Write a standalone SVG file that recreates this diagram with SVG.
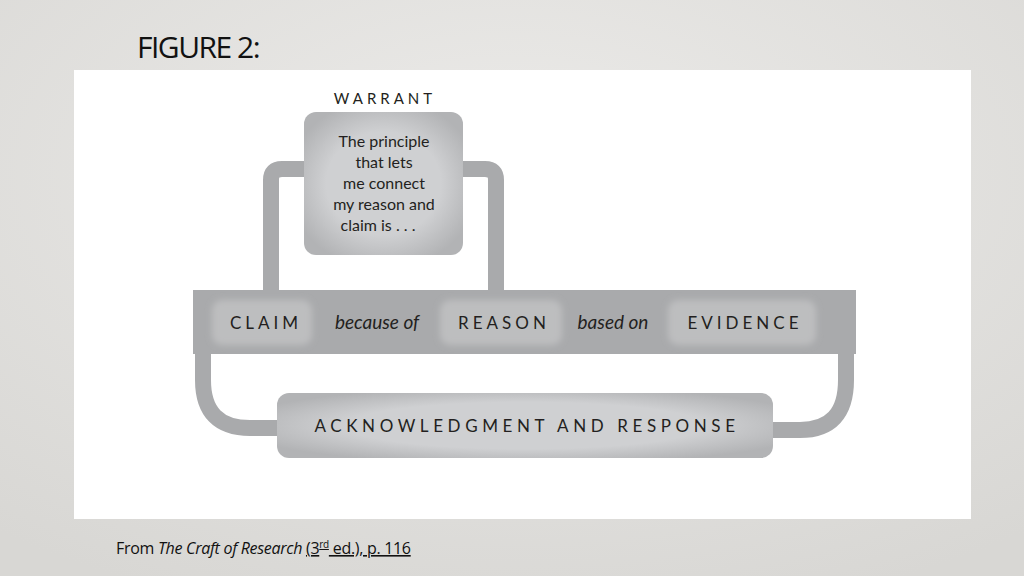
<svg xmlns="http://www.w3.org/2000/svg" width="1024" height="576" viewBox="0 0 1024 576">
<defs>
<radialGradient id="bg" cx="50%" cy="30%" r="80%"><stop offset="0" stop-color="#ecebe9"/><stop offset="1" stop-color="#d8d7d4"/></radialGradient>
<radialGradient id="glow" cx="50%" cy="50%" r="60%"><stop offset="0.6" stop-color="#cfd0d2"/><stop offset="1" stop-color="#b2b3b5"/></radialGradient>
<filter id="blur" x="-20%" y="-20%" width="140%" height="140%"><feGaussianBlur stdDeviation="3"/></filter>
<style>
.band{fill:#a9aaac}
.lk{fill:none;stroke:#a9aaac;stroke-width:16}
.cap{font-family:"Lato","Liberation Sans",sans-serif;font-size:17px;letter-spacing:4px;fill:#231f20;text-anchor:middle}
.it{font-family:"Lato","Liberation Sans",sans-serif;font-size:19px;font-style:italic;fill:#231f20;text-anchor:middle}
.body{font-family:"Lato","Liberation Sans",sans-serif;font-size:16px;fill:#231f20;text-anchor:middle}
</style>
</defs>
<rect width="1024" height="576" fill="url(#bg)"/>
<text x="137" y="58" font-family="'Open Sans','Liberation Sans',sans-serif" font-size="30" fill="#111" letter-spacing="-1.5">FIGURE 2:</text>
<rect x="74" y="70" width="897" height="449" fill="#fff"/>
<g id="connectors">
<path class="lk" d="M271 290 V180 Q271 169 282 169 H310"/>
<path class="lk" d="M460 169 H485 Q496 169 496 180 V290"/>
<path class="lk" d="M203 350 V380 Q203 428 250 428 H285"/>
<path class="lk" d="M846 350 V380 Q846 430 800 430 H765"/>
</g>
<g id="band"><rect class="band" x="193" y="290" width="663" height="64"/></g>
<g id="warrant">
<text class="cap" x="385" y="104" style="font-size:15px;letter-spacing:4px">WARRANT</text>
<rect x="304" y="112" width="159" height="143" rx="12" fill="url(#glow)"/>
<text class="body" x="384" y="147">The principle</text>
<text class="body" x="384" y="168">that lets</text>
<text class="body" x="384" y="189">me connect</text>
<text class="body" x="384" y="210">my reason and</text>
<text class="body" x="378" y="231">claim is . . .</text>
</g>
<g id="claim">
<rect x="212" y="300" width="100" height="45" rx="10" fill="#bdbebf" filter="url(#blur)"/>
<text class="cap" x="266" y="329">CLAIM</text>
</g>
<text class="it" x="377" y="329">because of</text>
<g id="reason">
<rect x="440" y="300" width="122" height="45" rx="10" fill="#bdbebf" filter="url(#blur)"/>
<text class="cap" x="504" y="329">REASON</text>
</g>
<text class="it" x="613" y="329">based on</text>
<g id="evidence">
<rect x="668" y="300" width="148" height="45" rx="10" fill="#bdbebf" filter="url(#blur)"/>
<text class="cap" x="745" y="329">EVIDENCE</text>
</g>
<g id="ack">
<rect x="277" y="393" width="496" height="65" rx="12" fill="url(#glow)"/>
<text class="cap" x="527" y="432" style="letter-spacing:4.6px">ACKNOWLEDGMENT AND RESPONSE</text>
</g>
<text x="116" y="554" font-family="'Open Sans','Liberation Sans',sans-serif" font-size="16" fill="#111" letter-spacing="-0.3">From <tspan font-style="italic">The Craft of Research</tspan> <tspan text-decoration="underline">(3<tspan font-size="10" dy="-6">rd</tspan><tspan dy="6"> ed.), p. 116</tspan></tspan></text>
</svg>
